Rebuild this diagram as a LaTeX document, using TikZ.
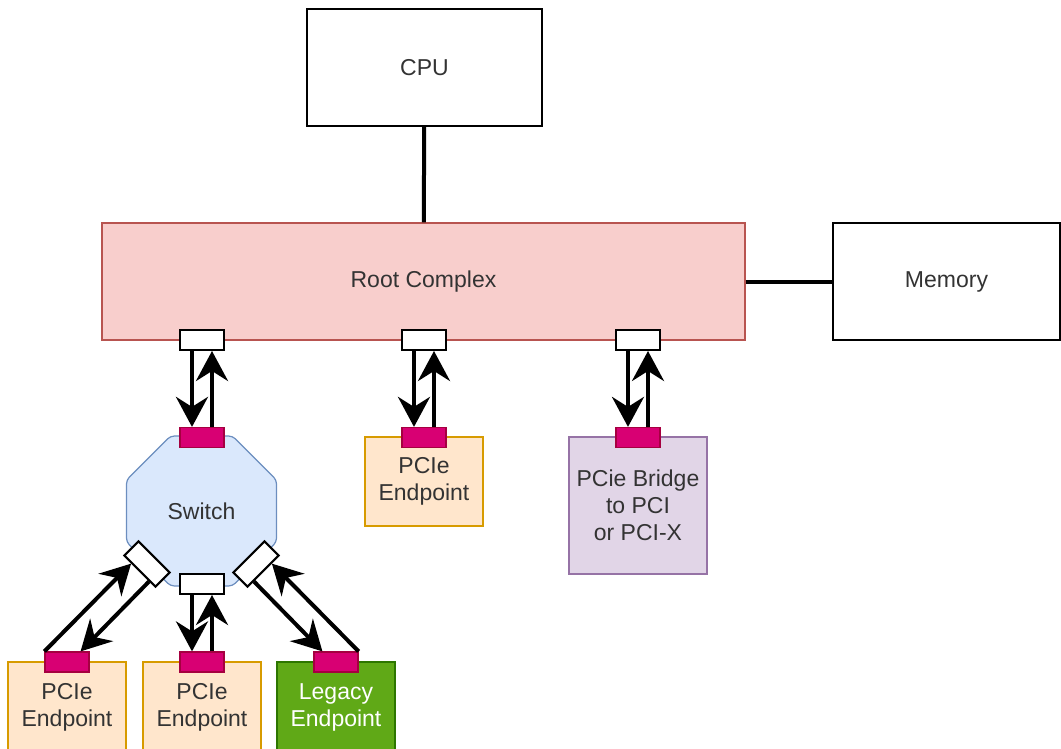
\documentclass[tikz,border=0pt]{standalone}
\usepackage{fontspec}
\setmainfont{Liberation Sans}
\usetikzlibrary{arrows.meta,shapes.geometric,calc}
\definecolor{rcfill}{HTML}{F8CECC}\definecolor{rcdraw}{HTML}{B85450}
\definecolor{swfill}{HTML}{DAE8FC}\definecolor{swdraw}{HTML}{6C8EBF}
\definecolor{epfill}{HTML}{FFE6CC}\definecolor{epdraw}{HTML}{D79B00}
\definecolor{brfill}{HTML}{E1D5E7}\definecolor{brdraw}{HTML}{9673A6}
\definecolor{lgfill}{HTML}{60A917}\definecolor{lgdraw}{HTML}{2D7600}
\definecolor{ptfill}{HTML}{D80073}\definecolor{ptdraw}{HTML}{A50040}
\definecolor{txt}{HTML}{333333}
\begin{document}
\begin{tikzpicture}[x=0.5pt,y=-0.5pt,
  every node/.style={font=\fontsize{11.5}{13.5}\selectfont, text=txt, align=center, inner sep=0pt},
  box/.style={draw, line width=0.6pt, rectangle},
  plain/.style={box, draw=black, fill=white},
  rootbox/.style={box, draw=rcdraw, fill=rcfill},
  epbox/.style={box, draw=epdraw, fill=epfill, minimum width=59pt},
  brbox/.style={box, draw=brdraw, fill=brfill},
  lgbox/.style={box, draw=lgdraw, fill=lgfill, text=white, minimum width=59pt},
  pwhite/.style={draw=black, fill=white, line width=1pt, minimum width=22pt, minimum height=10pt},
  pmag/.style={draw=ptdraw, fill=ptfill, line width=0.6pt, minimum width=22pt, minimum height=10pt},
  link/.style={line width=2pt},
  flow/.style={line width=2pt, -{Stealth[length=15pt,width=16pt,inset=5pt]}},
]
\useasboundingbox (0,0) rectangle (1061,749);

% main boxes
\node[plain, minimum width=117.5pt, minimum height=58.5pt] (cpu) at (424.5,67.5) {CPU};
\node[rootbox, minimum width=321.5pt, minimum height=58.5pt] (rc) at (423.5,281.5) {Root Complex};
\node[plain, minimum width=113.5pt, minimum height=58.5pt] (mem) at (946.5,281.5) {Memory};
\draw[link] (cpu) -- (rc);
\draw[link] (rc) -- (mem);

% switch
\node[regular polygon, regular polygon sides=8, minimum size=81.2pt, rounded corners=2pt, draw=swdraw, fill=swfill, line width=0.6pt] (sw) at (201.5,511) {Switch};

% devices
\node[epbox, minimum height=44.5pt] (ep2) at (424,481.5) {PCIe\\Endpoint};
\node[brbox, minimum width=69pt, minimum height=68.5pt] (br) at (638,505.5) {PCie Bridge\\to PCI\\or PCI-X};
\node[epbox, minimum height=45pt] (e1) at (67,707) {PCIe\\Endpoint};
\node[epbox, minimum height=45pt] (e2) at (202,707) {PCIe\\Endpoint};
\node[lgbox, minimum height=45pt] (e3) at (336,707) {Legacy\\Endpoint};

% ports
\node[pwhite] (rp1) at (202,340) {};
\node[pwhite] (rp2) at (424,340) {};
\node[pwhite] (rp3) at (638,340) {};
\node[pmag] (sp) at (202,437.5) {};
\node[pmag] (ep2p) at (424,437.5) {};
\node[pmag] (brp) at (638,437.5) {};
\node[pwhite, rotate=-45] (sl) at (147,564) {};
\node[pwhite] (sb) at (202,584) {};
\node[pwhite, rotate=45] (sr) at (256,564) {};
\node[pmag] (e1p) at (67,662) {};
\node[pmag] (e2p) at (202,662) {};
\node[pmag] (e3p) at (336,662) {};

% links root -> devices
\draw[flow] ([xshift=-5pt]rp1.south) -- ([xshift=-5pt]sp.north);
\draw[flow] ([xshift=5pt]sp.north) -- ([xshift=5pt]rp1.south);
\draw[flow] ([xshift=-5pt]rp2.south) -- ([xshift=-5pt]ep2p.north);
\draw[flow] ([xshift=5pt]ep2p.north) -- ([xshift=5pt]rp2.south);
\draw[flow] ([xshift=-5pt]rp3.south) -- ([xshift=-5pt]brp.north);
\draw[flow] ([xshift=5pt]brp.north) -- ([xshift=5pt]rp3.south);

% links switch -> endpoints
\draw[flow] (e1p.north west) -- ($(sl.south west)!0.25!(sl.south east)$);
\draw[flow] ($(sl.south west)!0.8!(sl.south east)$) -- ($(e1p.north west)!0.8!(e1p.north east)$);
\draw[flow] ([xshift=-5pt]sb.south) -- ([xshift=-5pt]e2p.north);
\draw[flow] ([xshift=5pt]e2p.north) -- ([xshift=5pt]sb.south);
\draw[flow] ($(sr.south east)!0.8!(sr.south west)$) -- ($(e3p.north west)!0.2!(e3p.north east)$);
\draw[flow] (e3p.north east) -- ($(sr.south east)!0.25!(sr.south west)$);
\end{tikzpicture}
\end{document}
